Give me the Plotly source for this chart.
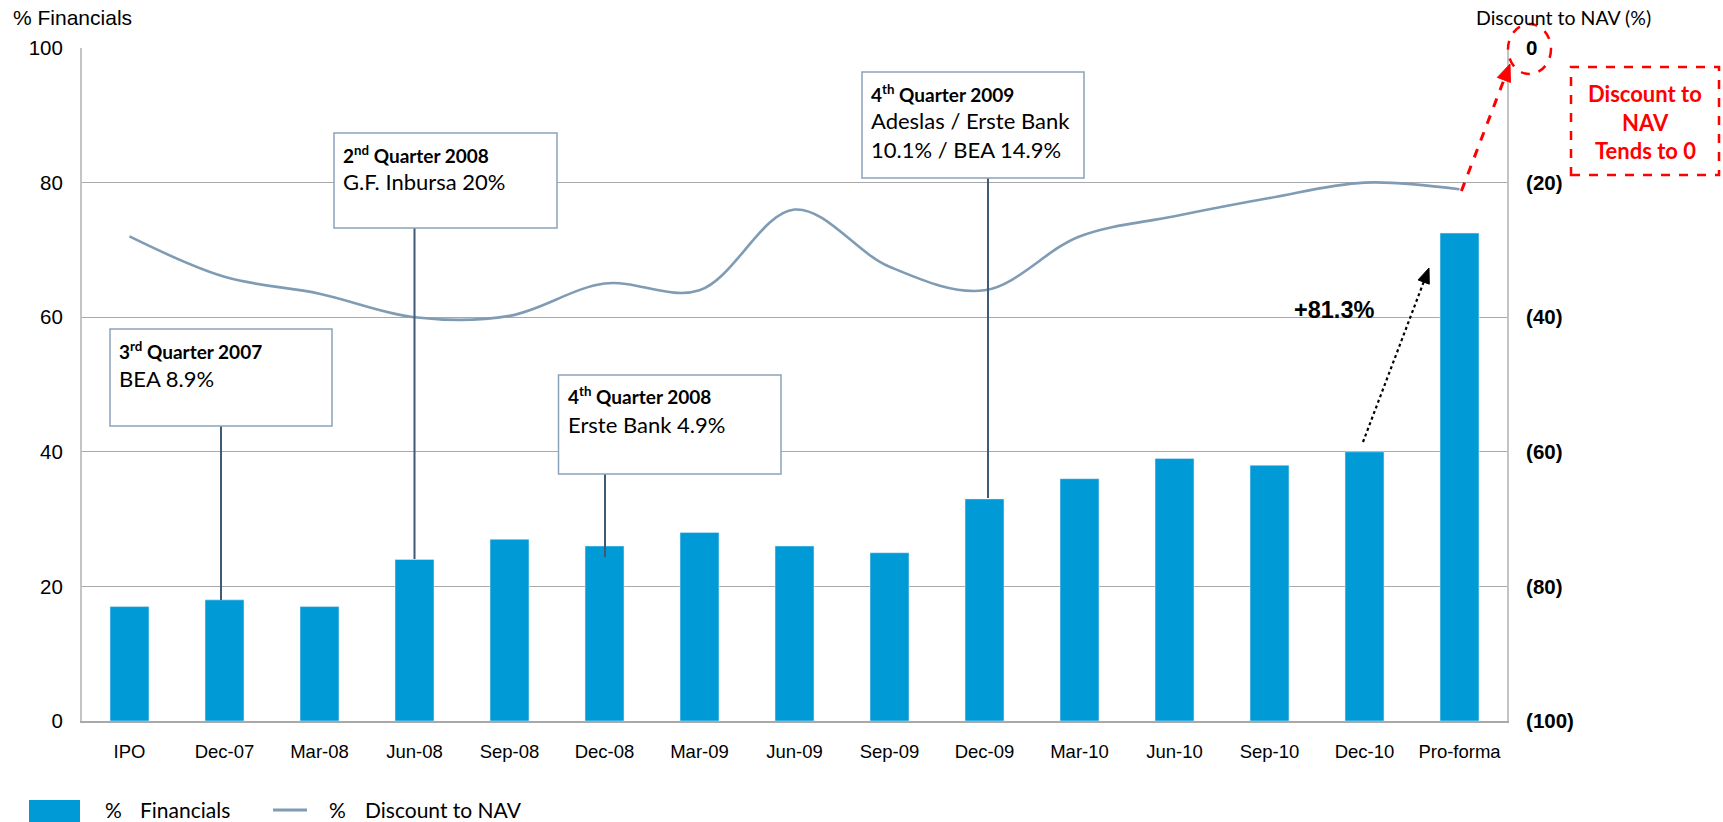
import math
import plotly.graph_objects as go

# ---------------- data ----------------
categories = ["IPO", "Dec-07", "Mar-08", "Jun-08", "Sep-08", "Dec-08", "Mar-09", "Jun-09",
              "Sep-09", "Dec-09", "Mar-10", "Jun-10", "Sep-10", "Dec-10", "Pro-forma"]
financials = [17, 18, 17, 24, 27, 26, 28, 26, 25, 33, 36, 39, 38, 40, 72.5]
discount_nav = [-28, -34, -36.5, -40, -39.8, -35, -36, -24, -32.5, -36, -28, -25, -22.3, -20, -21]

right_tickvals = [-100, -80, -60, -40, -20, 0]
right_ticktext = ["(100)", "(80)", "(60)", "(40)", "(20)", "0"]
left_tickvals = [0, 20, 40, 60, 80, 100]

# ---------------- geometry helpers (screen pixel -> paper) ----------------
W, H = 1723, 822
L, R, T, B = 82, 1507, 48, 721   # plot area in screen pixels


def px(x):
    return (x - L) / (R - L)


def py(y):
    return (B - y) / (B - T)


BAR_COLOR = "#009AD7"
LINE_COLOR = "#7F9CB4"
BOX_COLOR = "#8AA3BA"
CONN_COLOR = "#3E5A74"
BODY_FONT = "Lato"
AX_FONT = "Liberation Sans"
RED = "#FF0000"

fig = go.Figure()
fig.add_trace(go.Bar(x=categories, y=financials, marker_color=BAR_COLOR, width=0.41,
                     name="% Financials", showlegend=False, hoverinfo="skip"))
fig.add_trace(go.Scatter(x=categories, y=discount_nav, yaxis="y2", mode="lines",
                         line=dict(color=LINE_COLOR, width=2.6, shape="spline", smoothing=1.0),
                         name="% Discount to NAV", showlegend=False, hoverinfo="skip"))

shapes = []
annotations = []


def arrow(tail, head, color, width, dash, head_len, head_half):
    (x0, y0), (x1, y1) = tail, head
    dx, dy = x1 - x0, y1 - y0
    n = math.hypot(dx, dy)
    ux, uy = dx / n, dy / n
    bx, by = x1 - head_len * ux, y1 - head_len * uy
    nx, ny = -uy, ux
    shapes.append(dict(type="line", xref="paper", yref="paper", x0=px(x0), y0=py(y0),
                       x1=px(bx), y1=py(by), line=dict(color=color, width=width, dash=dash)))
    pts = [(x1, y1), (bx + head_half * nx, by + head_half * ny), (bx - head_half * nx, by - head_half * ny)]
    path = "M {} {} L {} {} L {} {} Z".format(*[v for p in pts for v in (px(p[0]), py(p[1]))])
    shapes.append(dict(type="path", xref="paper", yref="paper", path=path,
                       fillcolor=color, line=dict(color=color, width=1)))


# --------- callout boxes ---------
boxes = [
    # (x0, x1, y0, y1, conn_x, conn_bottom_y, title, lines)
    (110, 332, 329, 426, 221, 600, "<b>3<sup>rd</sup> Quarter 2007</b>", ["BEA 8.9%"]),
    (334, 557, 133, 228, 414.5, 559, "<b>2<sup>nd</sup> Quarter 2008</b>", ["G.F. Inbursa 20%"]),
    (558.5, 781, 375, 474, 605, 557, "<b>4<sup>th</sup> Quarter 2008</b>", ["Erste Bank 4.9%"]),
    (862, 1084, 72, 178, 988, 498, "<b>4<sup>th</sup> Quarter 2009</b>",
     ["Adeslas / Erste Bank", "10.1% / BEA 14.9%"]),
]
for x0, x1, y0, y1, cx, cy, title, lines in boxes:
    shapes.append(dict(type="line", xref="paper", yref="paper", x0=px(cx), x1=px(cx),
                       y0=py(y1), y1=py(cy), line=dict(color=CONN_COLOR, width=2), layer="above"))
    shapes.append(dict(type="rect", xref="paper", yref="paper", x0=px(x0), x1=px(x1),
                       y0=py(y1), y1=py(y0), fillcolor="white",
                       line=dict(color=BOX_COLOR, width=1.5), layer="above"))
    tx = x0 + 7
    annotations.append(dict(xref="paper", yref="paper", x=px(tx), y=py(y0 + 21), text=title,
                            showarrow=False, xanchor="left", yanchor="middle",
                            font=dict(family=BODY_FONT, size=19, color="black")))
    for k, ln in enumerate(lines):
        annotations.append(dict(xref="paper", yref="paper", x=px(tx), y=py(y0 + 49 + 28.5 * k),
                                text=ln, showarrow=False, xanchor="left", yanchor="middle",
                                font=dict(family=BODY_FONT, size=22, color="black")))

# --------- axis titles ---------
annotations.append(dict(xref="paper", yref="paper", x=px(11), y=py(17.5), text="% Financials",
                        showarrow=False, xanchor="left", yanchor="middle",
                        font=dict(family=AX_FONT, size=21, color="black")))
annotations.append(dict(xref="paper", yref="paper", x=px(1474), y=py(17.5), text="Discount to NAV (%)",
                        showarrow=False, xanchor="left", yanchor="middle",
                        font=dict(family=BODY_FONT, size=19.5, color="black")))

# --------- red dashed ellipse, arrow, box ---------
shapes.append(dict(type="circle", xref="paper", yref="paper", x0=px(1508), x1=px(1551),
                   y0=py(74), y1=py(24), line=dict(color=RED, width=2.5, dash="dash")))
arrow((1461.4, 191), (1510, 64), RED, 3, "dash", 17, 7)
shapes.append(dict(type="rect", xref="paper", yref="paper", x0=px(1571), x1=px(1719),
                   y0=py(175), y1=py(67), line=dict(color=RED, width=2.5, dash="dash")))
for k, ln in enumerate(["Discount to", "NAV", "Tends to 0"]):
    annotations.append(dict(xref="paper", yref="paper", x=px(1645), y=py(94 + 28 * k),
                            text="<b>" + ln + "</b>", showarrow=False, xanchor="center",
                            yanchor="middle", font=dict(family=BODY_FONT, size=22, color=RED)))

# --------- black dotted arrow + label ---------
arrow((1363, 442), (1429, 268), "black", 2.2, "dot", 15, 6)
annotations.append(dict(xref="paper", yref="paper", x=px(1334), y=py(310), text="<b>+81.3%</b>",
                        showarrow=False, xanchor="center", yanchor="middle",
                        font=dict(family=AX_FONT, size=23.5, color="black")))

# --------- manual legend ---------
shapes.append(dict(type="rect", xref="paper", yref="paper", x0=px(29), x1=px(80),
                   y0=py(822), y1=py(800), fillcolor=BAR_COLOR, line=dict(width=0)))
shapes.append(dict(type="line", xref="paper", yref="paper", x0=px(273), x1=px(307),
                   y0=py(810), y1=py(810), line=dict(color=LINE_COLOR, width=3)))
for xx, t in [(103, "%"), (138, "Financials"), (327, "%"), (363, "Discount to NAV")]:
    annotations.append(dict(xref="paper", yref="paper", x=px(xx), y=py(809), text=t,
                            showarrow=False, xanchor="left", yanchor="middle",
                            font=dict(family=BODY_FONT, size=21, color="black")))

fig.update_layout(
    width=W, height=H,
    margin=dict(l=L, r=W - R, t=T, b=H - B, pad=0),
    paper_bgcolor="white", plot_bgcolor="white",
    hovermode=False,
    xaxis=dict(type="category", range=[-0.5, 14.5], showline=True, linecolor="#A9A9A9",
               linewidth=2, ticks="outside", ticklen=13, tickcolor="rgba(0,0,0,0)",
               tickfont=dict(family=AX_FONT, size=18.5, color="black"), showgrid=False),
    yaxis=dict(range=[0, 100], tickvals=left_tickvals, showgrid=True, gridcolor="#A9A9A9",
               gridwidth=1, showline=True, linecolor="#C4C4C4", linewidth=2, zeroline=False,
               ticks="outside", ticklen=13, tickcolor="rgba(0,0,0,0)",
               tickfont=dict(family=AX_FONT, size=20.5, color="black")),
    yaxis2=dict(range=[-100, 0], overlaying="y", side="right", tickvals=right_tickvals,
                ticktext=right_ticktext, showgrid=False, showline=True, linecolor="#C4C4C4",
                linewidth=2, zeroline=False, ticks="outside", ticklen=13,
                tickcolor="rgba(0,0,0,0)",
                tickfont=dict(family=AX_FONT, size=20.5, color="black", weight="bold")),
    shapes=shapes,
    annotations=annotations,
    showlegend=False,
)

fig.write_html("out.html", config={"displayModeBar": False, "staticPlot": True},
               post_script="document.body.style.margin='0';document.body.style.overflow='hidden';")
